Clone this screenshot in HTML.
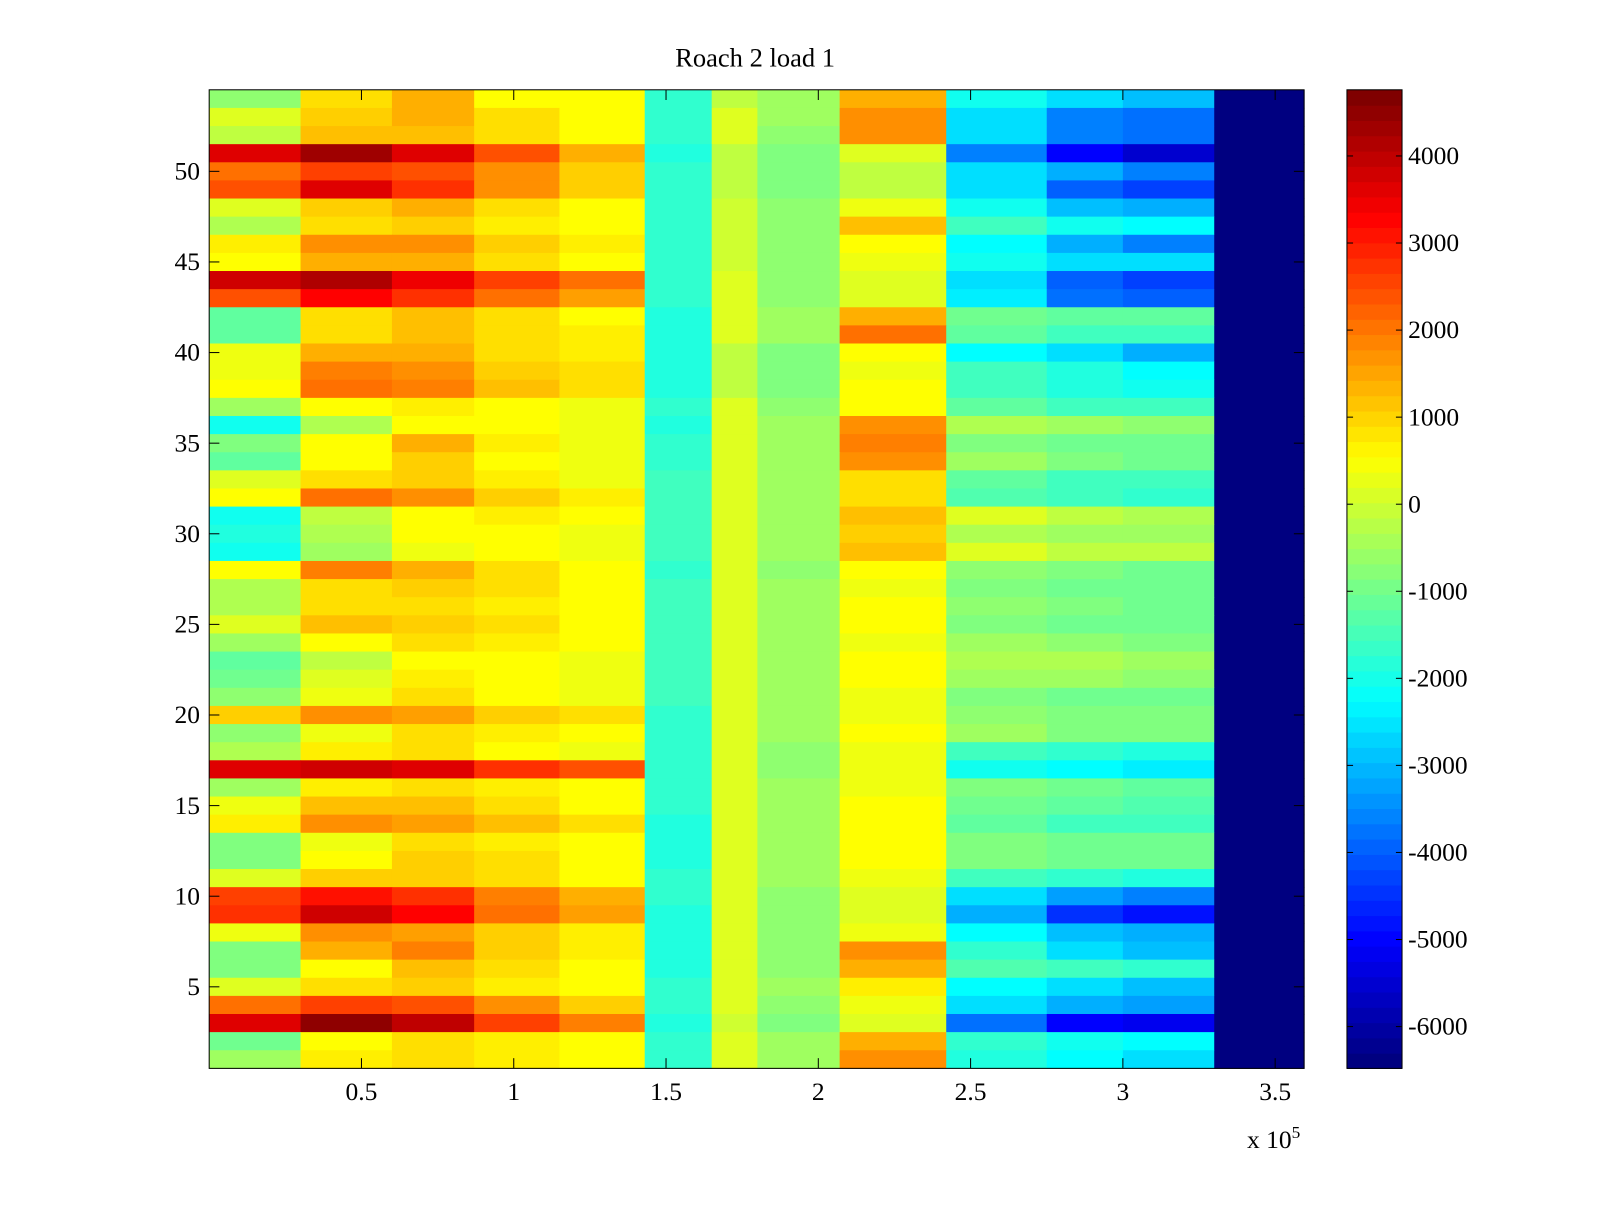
<!DOCTYPE html>
<html><head><meta charset="utf-8"><style>
html,body{margin:0;padding:0;background:#fff;}
svg text{font-family:"Liberation Serif",serif;fill:#000;}
</style></head><body>
<svg id="chart" width="1600" height="1200" viewBox="0 0 1568 1176" xmlns="http://www.w3.org/2000/svg">
<rect width="1568" height="1176" fill="#fff"/>
<text x="740" y="65" font-size="26" text-anchor="middle">Roach 2 load 1</text>
<g id="cells"></g><g id="axes"></g><g id="cbar"></g>
</svg>
<script>
// x-segment boundaries (units of 1e5)
const xEdges = [0,0.3,0.6,0.87,1.15,1.43,1.65,1.8,2.07,2.42,2.75,3.0,3.3,3.6];
// rows listed from row 54 (top) down to row 1; last segment (3.3-3.6) is filled separately
const rowValuesTopDown = [
[-600,900,1500,700,600,-1600,0,-500,1500,-2000,-2500,-2800],
[200,1200,1500,1000,600,-1600,300,-500,1800,-2500,-3500,-3800],
[0,1300,1300,900,700,-1600,200,-600,1800,-2500,-3500,-3800],
[3800,4500,3800,2500,1500,-1800,0,-800,200,-3500,-5000,-5500],
[2200,2800,2600,1800,1200,-1600,0,-800,0,-2500,-3000,-3500],
[2500,3800,3000,1800,1200,-1600,0,-800,0,-2500,-4000,-4200],
[200,1200,1500,1000,600,-1600,100,-600,500,-2000,-2800,-3000],
[-200,1000,1200,800,600,-1600,100,-600,1300,-1500,-2000,-2200],
[800,1800,1800,1200,800,-1600,100,-600,700,-2200,-3000,-3600],
[700,1500,1500,1000,700,-1600,100,-600,500,-2000,-2500,-2500],
[4000,4400,3600,2800,2200,-1600,200,-600,300,-2500,-4000,-4200],
[2500,3500,3000,2200,1600,-1600,200,-600,300,-2300,-3800,-4000],
[-1200,1000,1300,900,600,-1800,300,-500,1500,-1000,-1200,-1200],
[-1200,1000,1300,1000,800,-1800,300,-500,2200,-1200,-1500,-1500],
[400,1500,1500,1000,800,-1800,0,-800,600,-2200,-2500,-3000],
[500,2000,1800,1200,900,-1800,0,-800,500,-1500,-1800,-2200],
[600,2200,2000,1300,1000,-1800,0,-800,600,-1500,-1800,-2000],
[-500,700,800,600,400,-1600,300,-600,700,-1200,-1400,-1500],
[-2000,-200,700,600,400,-1800,300,-500,1800,-300,-500,-600],
[-800,700,1500,800,500,-1600,300,-500,2000,-700,-900,-1000],
[-1200,600,1200,700,500,-1600,300,-500,1800,-500,-700,-900],
[200,1000,1200,800,500,-1500,300,-400,1000,-1200,-1400,-1500],
[600,2200,1800,1200,800,-1500,200,-500,900,-1300,-1500,-1600],
[-2000,0,700,800,600,-1500,300,-400,1300,200,-100,-300],
[-1800,-300,700,700,500,-1500,300,-400,1200,-300,-500,-500],
[-2000,-500,500,600,500,-1500,300,-400,1300,300,0,0],
[600,2000,1500,1000,700,-1600,300,-600,700,-600,-800,-900],
[-200,900,1200,900,700,-1500,200,-500,500,-700,-900,-1000],
[-200,900,1000,800,600,-1500,300,-500,700,-600,-800,-900],
[300,1300,1200,900,700,-1500,200,-500,600,-700,-900,-1000],
[-400,600,900,800,600,-1500,300,-400,500,-400,-600,-700],
[-1200,0,700,600,500,-1500,300,-400,600,-200,-300,-400],
[-1000,200,800,600,500,-1500,300,-400,600,-400,-500,-600],
[-600,500,900,700,500,-1500,300,-500,500,-700,-900,-1000],
[1200,1800,1600,1200,900,-1600,200,-500,500,-600,-700,-800],
[-600,500,1000,800,600,-1600,300,-500,700,-500,-700,-800],
[-300,800,1000,700,500,-1600,200,-600,400,-1400,-1600,-1800],
[3800,4000,3800,3000,2600,-1600,200,-600,400,-2000,-2200,-2400],
[-400,800,1000,800,600,-1600,300,-500,400,-800,-1000,-1100],
[400,1300,1400,1000,700,-1600,300,-500,600,-1000,-1200,-1300],
[800,1800,1700,1300,900,-1800,200,-500,700,-1200,-1400,-1500],
[-800,400,1000,800,600,-1800,300,-400,600,-700,-900,-1000],
[-800,600,1200,900,700,-1800,300,-400,700,-700,-900,-1000],
[200,1200,1200,900,700,-1600,300,-400,400,-1400,-1600,-1800],
[2800,3200,2900,2000,1500,-1600,200,-600,300,-2500,-3200,-3500],
[3000,4000,3400,2200,1600,-1800,200,-600,300,-3000,-4500,-4800],
[400,1800,1700,1200,800,-1800,200,-600,400,-2200,-2800,-3000],
[-800,1500,2000,1200,800,-1800,200,-600,1800,-1700,-2500,-2800],
[-800,700,1300,900,700,-1800,200,-600,1500,-1300,-1500,-1700],
[200,1000,1200,800,600,-1600,300,-500,800,-2200,-2500,-2800],
[2200,2800,2600,1800,1200,-1600,200,-600,400,-2500,-3000,-3300],
[3800,4600,4200,2800,2000,-1800,100,-700,300,-3800,-5000,-5200],
[-1000,700,1000,800,600,-1600,200,-500,1500,-1700,-2000,-2200],
[-500,800,1000,800,600,-1600,200,-500,1800,-1800,-2200,-2500]
];
const lastSegmentValue = -6480;
const xTicks = [0.5,1,1.5,2,2.5,3,3.5];
const xTickLabels = ["0.5","1","1.5","2","2.5","3","3.5"];
const yTicks = [5,10,15,20,25,30,35,40,45,50];
const cTicks = [4000,3000,2000,1000,0,-1000,-2000,-3000,-4000,-5000,-6000];
const cMin = -6480, cMax = 4760;

const NS="http://www.w3.org/2000/svg";
const L=205,R=1278,T=88,B=1047;
const xMin=0,xMax=3.595,yMin=0.5,yMax=54.5;
const nRows=rowValuesTopDown.length;
function sx(v){return L+(v-xMin)/(xMax-xMin)*(R-L);}
function sy(v){return B-(v-yMin)/(yMax-yMin)*(B-T);}
function jet(f){
  f=Math.max(0,Math.min(1,f));
  const r=Math.max(0,Math.min(1,1.5-Math.abs(4*f-3)));
  const g=Math.max(0,Math.min(1,1.5-Math.abs(4*f-2)));
  const b=Math.max(0,Math.min(1,1.5-Math.abs(4*f-1)));
  return `rgb(${Math.round(r*255)},${Math.round(g*255)},${Math.round(b*255)})`;
}
function colorOf(v){const f=(v-cMin)/(cMax-cMin);return jet(Math.floor(f*64)/63.999);}
function el(tag,attrs,parent){const e=document.createElementNS(NS,tag);for(const k in attrs)e.setAttribute(k,attrs[k]);parent.appendChild(e);return e;}

const cells=document.getElementById('cells');
rowValuesTopDown.forEach((row,i)=>{
  const rowNum=nRows-i;
  const y0=sy(rowNum+0.5),y1=sy(rowNum-0.5);
  const vals=row.concat([lastSegmentValue]);
  vals.forEach((v,j)=>{
    const x0=sx(xEdges[j]),x1=Math.min(R,sx(xEdges[j+1]));
    const r=el('rect',{x:x0,y:y0,width:x1-x0+0.5,height:y1-y0+0.5,fill:colorOf(v)},cells);
    
    
  });
});

const axes=document.getElementById('axes');
const frame=el('rect',{x:L,y:T,width:R-L,height:B-T,fill:'none',stroke:'#000','stroke-width':1},axes);


xTicks.forEach((t,i)=>{
  const x=sx(t);
  el('line',{x1:x,y1:B,x2:x,y2:B-10,stroke:'#000'},axes);
  el('line',{x1:x,y1:T,x2:x,y2:T+10,stroke:'#000'},axes);
  const tx=el('text',{x:x,y:B+31,'font-size':25,'text-anchor':'middle'},axes);
  tx.textContent=xTickLabels[i];
  
  
});
yTicks.forEach(t=>{
  const y=sy(t);
  el('line',{x1:L,y1:y,x2:L+10,y2:y,stroke:'#000'},axes);
  el('line',{x1:R,y1:y,x2:R-10,y2:y,stroke:'#000'},axes);
  const tx=el('text',{x:L-9,y:y+8,'font-size':25,'text-anchor':'end'},axes);
  tx.textContent=String(t);
  
  
});
const ex=el('text',{x:1222,y:1125,'font-size':25},axes);
ex.textContent='x 10';


const ex2=el('tspan',{dy:-10,'font-size':17},ex);ex2.textContent='5';

const cbar=document.getElementById('cbar');
const CL=1320,CR=1374;
function cy(v){return B-(v-cMin)/(cMax-cMin)*(B-T);}
for(let k=0;k<64;k++){
  const v0=cMin+k*(cMax-cMin)/64,v1=cMin+(k+1)*(cMax-cMin)/64;
  el('rect',{x:CL,y:cy(v1),width:CR-CL,height:cy(v0)-cy(v1)+0.6,fill:jet(k/63)},cbar);
}
const cf=el('rect',{x:CL,y:T,width:CR-CL,height:B-T,fill:'none',stroke:'#000'},cbar);


cTicks.forEach(t=>{
  const y=cy(t);
  el('line',{x1:CL,y1:y,x2:CL+6,y2:y,stroke:'#000'},cbar);
  el('line',{x1:CR,y1:y,x2:CR-6,y2:y,stroke:'#000'},cbar);
  const tx=el('text',{x:CR+6,y:y+8,'font-size':25},cbar);
  tx.textContent=String(t);
  
  
});
</script>
</body></html>
